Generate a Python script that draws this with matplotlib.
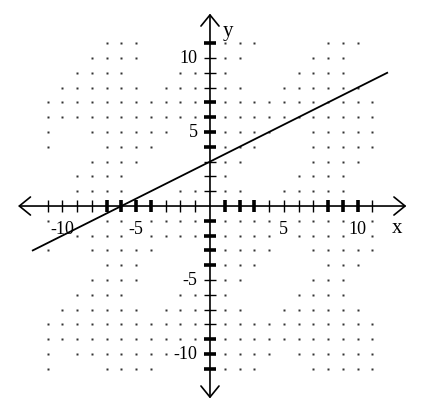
import matplotlib.pyplot as plt

plt.rcParams['font.family'] = ['Liberation Serif', 'DejaVu Serif']

# graph of y = x/2 + 3, drawn from x = -12 to x = 12
line_x = [-12, 12]
slope = 0.5
intercept = 3
line_y = [slope * x + intercept for x in line_x]

tick_vals = list(range(-11, 0)) + list(range(1, 12))
label_vals = [-10, -5, 5, 10]
bold_x = [-7, -6, -5, -4, 1, 2, 3, 8, 9, 10]
bold_y = [11, 7, 6, 5, 4, -1, -2, -3, -4, -9, -10, -11]

# grid dots as they show in the picture
# rows y = 11 .. -11, columns x = -11 .. 11 ('|' is the y axis)
dot_rows = [
    "    ...    |...    ... ",
    "   ....    |..    ...  ",
    "  ....   ..|.    ....  ",
    " ...... ...|..  ...... ",
    "...........|...........",
    "...........|...........",
    ".  ......  |....  .....",
    ".   ....   |...   .....",
    "   ....    |..    .... ",
    "  ....     |.    ....  ",
    "  ....   ..|..  .....  ",
    "           |           ",
    ".   .. ....|.... .... .",
    "  .... ....|.... .... .",
    ".  .....   |....  .....",
    "    ...    |...    ... ",
    "   ....    |..    ...  ",
    "  ....   ..|.    ....  ",
    " ...... ...|..  ...... ",
    "...........|...........",
    "...........|...........",
    ". .......  |.... ......",
    ".   ....   |...   .....",
]

dot_x = []
dot_y = []
for i, row in enumerate(dot_rows):
    for j, ch in enumerate(row):
        if ch == '.':
            dot_x.append(j - 11)
            dot_y.append(11 - i)

fig = plt.figure(figsize=(4.21, 4.11), dpi=100)
ax = fig.add_axes([0, 0, 1, 1])
ax.set_xlim(-14.22, 14.29)
ax.set_ylim(-13.85, 13.92)
ax.axis('off')

ax.plot(dot_x, dot_y, 's', ms=1.5, color='#333333', mec='none')

# axes with arrow heads at both ends
arrow = dict(arrowstyle='<->,head_length=0.32,head_width=0.26', lw=1.2,
             color='black', shrinkA=0, shrinkB=0, mutation_scale=25)
ax.annotate('', xy=(13.3, 0), xytext=(-13.0, 0), arrowprops=arrow)
ax.annotate('', xy=(0, 13.0), xytext=(0, -13.0), arrowprops=arrow)

# tick marks, some drawn heavier as in the picture
xw = [2.6 if v in bold_x else 1.0 for v in tick_vals]
yw = [2.6 if v in bold_y else 1.0 for v in tick_vals]
ax.vlines(tick_vals, -0.42, 0.42, colors='black', linewidths=xw)
ax.hlines(tick_vals, -0.38, 0.38, colors='black', linewidths=yw)

for v in label_vals:
    ax.text(v, -1.6, str(v), fontsize=13, ha='center', va='center')
    ax.text(-0.85, v, str(v), fontsize=13, ha='right', va='center')

ax.plot(line_x, line_y, color='black', lw=1.3)

ax.text(12.7, -1.5, 'x', fontsize=15, ha='center', va='center')
ax.text(1.2, 11.8, 'y', fontsize=15, ha='center', va='center')

fig.savefig('out.png', dpi=100)
